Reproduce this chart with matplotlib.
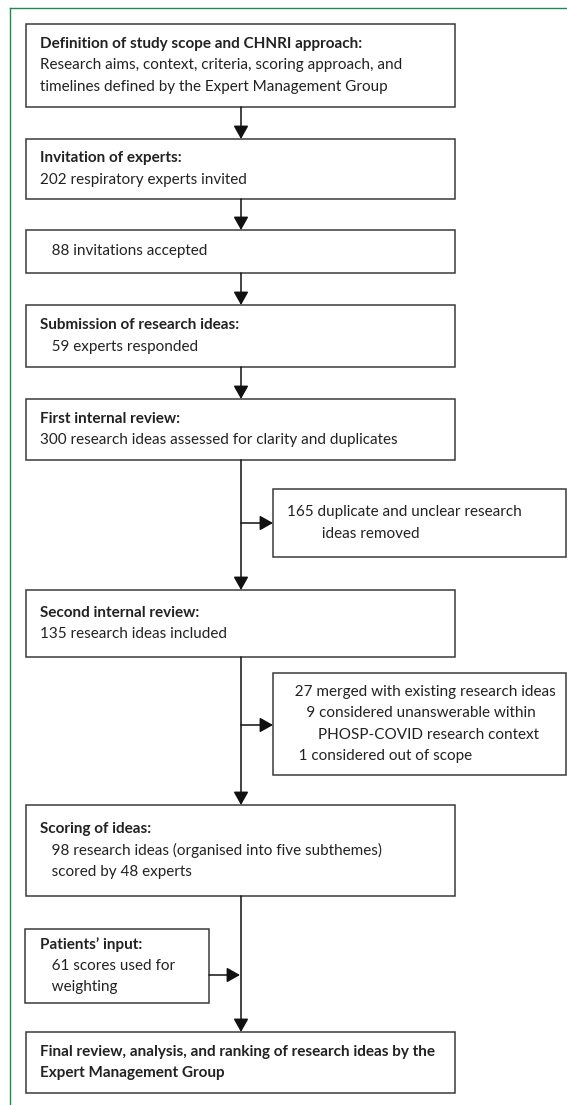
import matplotlib
matplotlib.use("Agg")
import matplotlib.pyplot as plt
from matplotlib.patches import Rectangle

plt.rcParams['font.family'] = ['Lato', 'DejaVu Sans']

# flowchart text
main_titles = [
    "Definition of study scope and CHNRI approach:",
    "Invitation of experts:",
    "",
    "Submission of research ideas:",
    "First internal review:",
    "Second internal review:",
    "Scoring of ideas:",
    "Final review, analysis, and ranking of research ideas by the\nExpert Management Group",
]
main_bodies = [
    ["Research aims, context, criteria, scoring approach, and",
     "timelines defined by the Expert Management Group"],
    ["202 respiratory experts invited"],
    ["   88 invitations accepted"],
    ["   59 experts responded"],
    ["300 research ideas assessed for clarity and duplicates"],
    ["135 research ideas included"],
    ["   98 research ideas (organised into five subthemes)",
     "   scored by 48 experts"],
    [],
]
side_texts = [
    ["165 duplicate and unclear research", "         ideas removed"],
    ["  27 merged with existing research ideas",
     "     9 considered unanswerable within",
     "        PHOSP-COVID research context",
     "   1 considered out of scope"],
]
patient_title = "Patients\u2019 input:"
patient_body = ["   61 scores used for", "   weighting"]

# layout (pixels, origin top-left)
W, H = 567, 1105
main_x0, main_x1 = 26, 455
spine_x = 241
main_y = [(24, 107), (139, 199), (230, 273), (305, 367), (399, 460),
          (590, 657), (805, 896), (1032, 1093)]
side_x0, side_x1 = 273, 566
side_y = [(489, 557), (673, 775)]
patient_box = (25, 209, 929, 1003)
line_h = 21.5
fs = 11
ink = "#222222"
edge = "#3a3a3a"

fig = plt.figure(figsize=(W / 100, H / 100), dpi=100)
ax = fig.add_axes([0, 0, 1, 1])
ax.set_xlim(0, W)
ax.set_ylim(H, 0)
ax.axis("off")

# green frame line
ax.plot([10, W], [8, 8], color="#1f8a50", lw=1.0)
ax.plot([10, 10], [8, H], color="#1f8a50", lw=1.0)


def box(x0, x1, y0, y1):
    ax.add_patch(Rectangle((x0, y0), x1 - x0, y1 - y0, fill=False,
                           edgecolor=edge, lw=1.1))


def lines_in(x, y0, y1, rows, bold_rows=()):
    n = len(rows)
    ymid = (y0 + y1) / 2
    start = ymid - (n - 1) * line_h / 2
    for i, r in enumerate(rows):
        ax.text(x, start + i * line_h, r, fontsize=fs, color=ink,
                va="center", ha="left",
                fontweight="bold" if i in bold_rows else "normal")


def arrow(x0, y0, x1, y1):
    ax.annotate("", xy=(x1, y1), xytext=(x0, y0),
                arrowprops=dict(arrowstyle="-|>,head_length=0.8,head_width=0.45",
                                mutation_scale=10, color="#111111", lw=1.1,
                                shrinkA=0, shrinkB=0))


for i, (y0, y1) in enumerate(main_y):
    box(main_x0, main_x1, y0, y1)
    rows = []
    bold = []
    if main_titles[i]:
        for t in main_titles[i].split("\n"):
            bold.append(len(rows))
            rows.append(t)
    rows += main_bodies[i]
    lines_in(40, y0, y1, rows, bold)

for i, (y0, y1) in enumerate(side_y):
    box(side_x0, side_x1, y0, y1)
    lines_in(287, y0, y1, side_texts[i])

px0, px1, py0, py1 = patient_box
box(px0, px1, py0, py1)
lines_in(40, py0, py1, [patient_title] + patient_body, (0,))

# connectors between consecutive main boxes
for i in range(len(main_y) - 1):
    arrow(spine_x, main_y[i][1], spine_x, main_y[i + 1][0])

# side branches
arrow(spine_x, 523, side_x0, 523)
arrow(spine_x, 725, side_x0, 725)
# patients input into spine
arrow(px1, 975, spine_x - 1, 975)

fig.savefig("out.png", dpi=100)
